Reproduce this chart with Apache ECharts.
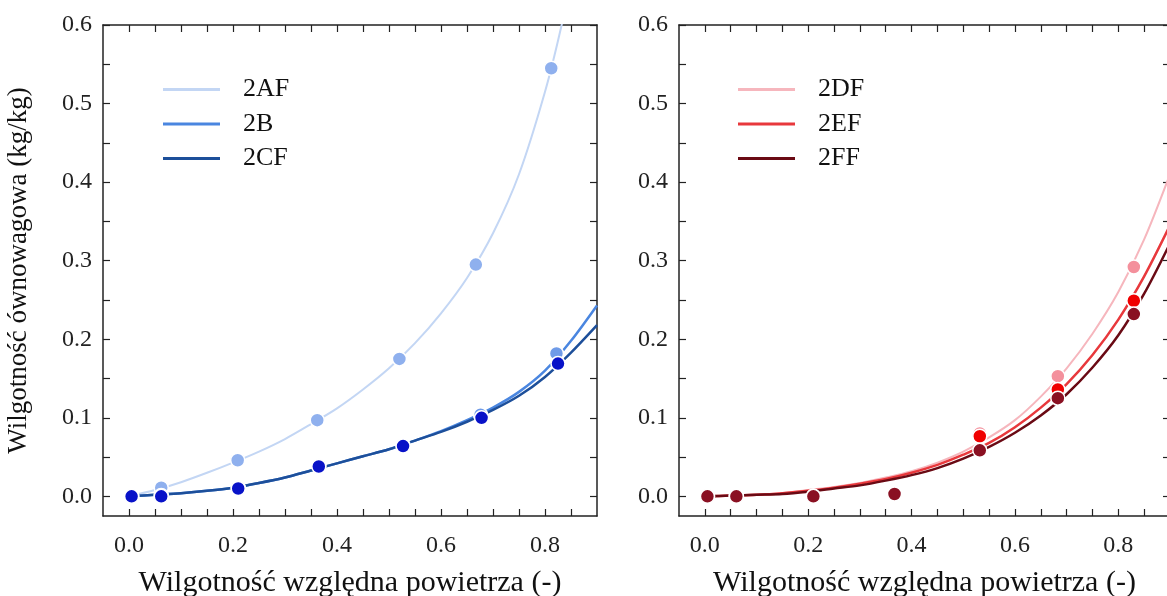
<!DOCTYPE html>
<html><head><meta charset="utf-8">
<script src="https://cdn.jsdelivr.net/npm/echarts@6/dist/echarts.min.js"></script>
<style>html,body{margin:0;padding:0;background:#fff}#c{width:1167px;height:596px}</style>
</head><body><div id="c"></div>
<script>
// ---- data ----
const seriesNamesLeft = ['2AF', '2B', '2CF'];
const seriesNamesRight = ['2DF', '2EF', '2FF'];
const xTitle = 'Wilgotność względna powietrza (-)';
const yTitle = 'Wilgotność ównowagowa (kg/kg)';

const xTickValues = [0, 0.05, 0.1, 0.15, 0.2, 0.25, 0.3, 0.35, 0.4, 0.45, 0.5, 0.55, 0.6, 0.65, 0.7, 0.75, 0.8, 0.85];
const xLabelValues = [0, 0.2, 0.4, 0.6, 0.8];
const yTickValues = [0, 0.05, 0.1, 0.15, 0.2, 0.25, 0.3, 0.35, 0.4, 0.45, 0.5, 0.55, 0.6];
const yLabelValues = [0, 0.1, 0.2, 0.3, 0.4, 0.5, 0.6];

// fitted curves (read along x)
const curveX = [0, 0.05, 0.1, 0.15, 0.2, 0.25, 0.3, 0.35, 0.4, 0.45, 0.5, 0.55, 0.6, 0.65, 0.7, 0.75, 0.8, 0.85, 0.9];
const curve2AFx = [0, 0.05, 0.1, 0.15, 0.2, 0.25, 0.3, 0.35, 0.4, 0.45, 0.5, 0.55, 0.6, 0.65, 0.7, 0.75, 0.8, 0.832, 0.85];
const curve2AF = [0, 0.008, 0.018, 0.03, 0.043, 0.057, 0.073, 0.092, 0.112, 0.136, 0.163, 0.195, 0.233, 0.278, 0.335, 0.41, 0.515, 0.6, 0.66];
const curve2B  = [0, 0.002, 0.004, 0.007, 0.011, 0.017, 0.024, 0.033, 0.042, 0.051, 0.060, 0.071, 0.083, 0.097, 0.113, 0.133, 0.160, 0.198, 0.243];
const curve2CF = [0, 0.002, 0.004, 0.007, 0.011, 0.017, 0.024, 0.033, 0.042, 0.051, 0.060, 0.071, 0.082, 0.095, 0.110, 0.128, 0.152, 0.183, 0.218];
const curve2DF = [0, 0.001, 0.002, 0.004, 0.008, 0.012, 0.017, 0.024, 0.032, 0.043, 0.057, 0.075, 0.097, 0.127, 0.163, 0.207, 0.260, 0.327, 0.41];
const curve2EF = [0, 0.001, 0.002, 0.004, 0.007, 0.011, 0.016, 0.022, 0.030, 0.040, 0.053, 0.068, 0.088, 0.113, 0.143, 0.180, 0.225, 0.280, 0.345];
const curve2FF = [0, 0.001, 0.002, 0.003, 0.006, 0.010, 0.014, 0.020, 0.027, 0.036, 0.048, 0.063, 0.081, 0.103, 0.130, 0.164, 0.205, 0.258, 0.322];

// measured points
const pts2AFx = [0.005, 0.062, 0.209, 0.362, 0.52, 0.667, 0.812];
const pts2AFy = [0, 0.011, 0.046, 0.097, 0.175, 0.295, 0.545];
const pts2Bx  = [0.005, 0.062, 0.21, 0.365, 0.527, 0.676, 0.822];
const pts2By  = [0, 0.001, 0.011, 0.039, 0.065, 0.104, 0.182];
const pts2CFx = [0.005, 0.062, 0.21, 0.365, 0.527, 0.678, 0.825];
const pts2CFy = [0, 0, 0.01, 0.038, 0.064, 0.100, 0.169];
const ptsRx   = [0.005, 0.061, 0.21, 0.367, 0.532, 0.683, 0.83];
const pts2DFy = [0, 0, 0, 0.003, 0.08, 0.153, 0.292];
const pts2EFy = [0, 0, 0, 0.003, 0.0765, 0.136, 0.249];
const pts2FFy = [0, 0, 0, 0.003, 0.0586, 0.125, 0.232];

// ---- chart ----
const FONT = '"Liberation Serif", "DejaVu Serif", serif';
const zip = (xs, ys) => xs.map((x, i) => [x, ys[i]]);

function xAxes(gridIndex, withName) {
  const common = {
    gridIndex, type: 'value', min: -0.05, max: 0.9,
    splitLine: { show: false },
    axisLine: { show: true, onZero: false, lineStyle: { color: '#222', width: 1.5 } },
    axisTick: { show: true, inside: true, length: 7, customValues: xTickValues, lineStyle: { color: '#222', width: 1.2 } }
  };
  return [
    Object.assign({}, common, {
      position: 'bottom',
      axisLabel: { show: true, customValues: xLabelValues, formatter: v => v.toFixed(1), margin: 18,
        fontFamily: FONT, fontSize: 24, color: '#222' },
      name: withName, nameLocation: 'middle', nameGap: 52,
      nameTextStyle: { fontFamily: FONT, fontSize: 30, color: '#111' }
    }),
    Object.assign({}, common, { position: 'top', axisLabel: { show: false } })
  ];
}
function yAxes(gridIndex, withName) {
  const common = {
    gridIndex, type: 'value', min: -0.025, max: 0.6,
    splitLine: { show: false },
    axisLine: { show: true, onZero: false, lineStyle: { color: '#222', width: 1.5 } },
    axisTick: { show: true, inside: true, length: 7, customValues: yTickValues, lineStyle: { color: '#222', width: 1.2 } }
  };
  return [
    Object.assign({}, common, {
      position: 'left',
      axisLabel: { show: true, customValues: yLabelValues, formatter: v => v.toFixed(1), margin: 11,
        fontFamily: FONT, fontSize: 24, color: '#222' },
      name: withName, nameLocation: 'middle', nameGap: 71, nameRotate: 90,
      nameTextStyle: { fontFamily: FONT, fontSize: 27, color: '#111' }
    }),
    Object.assign({}, common, { position: 'right', axisLabel: { show: false } })
  ];
}

function curve(name, xi, yi, xs, ys, color, width) {
  return { name, type: 'line', xAxisIndex: xi, yAxisIndex: yi, data: zip(xs, ys),
    smooth: 0.3, symbol: 'none', showSymbol: false, clip: true,
    lineStyle: { color, width }, itemStyle: { color }, z: 2, silent: true };
}
function points(xi, yi, xs, ys, color, z) {
  return { type: 'scatter', xAxisIndex: xi, yAxisIndex: yi, data: zip(xs, ys),
    symbol: 'circle', symbolSize: 14,
    itemStyle: { color, borderColor: '#fff', borderWidth: 1.5, opacity: 1 }, z, silent: true };
}

const legendCommon = {
  orient: 'vertical', icon: 'rect', itemWidth: 57, itemHeight: 3, itemGap: 7.5,
  textStyle: { fontFamily: FONT, fontSize: 26, lineHeight: 27, color: '#111', padding: [0, 0, 0, 18] },
  selectedMode: false
};

const option = {
  backgroundColor: '#fff',
  animation: false,
  grid: [
    { left: 103, top: 25, width: 494, height: 491, outerBoundsMode: 'none', containLabel: false },
    { left: 679, top: 25, width: 491, height: 491, outerBoundsMode: 'none', containLabel: false }
  ],
  legend: [
    Object.assign({ data: seriesNamesLeft, left: 158, top: 71 }, legendCommon),
    Object.assign({ data: seriesNamesRight, left: 733, top: 71 }, legendCommon)
  ],
  xAxis: [...xAxes(0, xTitle), ...xAxes(1, xTitle)],
  yAxis: [...yAxes(0, yTitle), ...yAxes(1, '')],
  series: [
    curve('2AF', 0, 0, curve2AFx, curve2AF, '#c3d6f4', 2),
    curve('2B', 0, 0, curveX, curve2B, '#4a86e0', 2.5),
    curve('2CF', 0, 0, curveX, curve2CF, '#1d4f9a', 2.5),
    points(0, 0, pts2AFx, pts2AFy, '#8fb0ee', 5),
    points(0, 0, pts2Bx, pts2By, '#6f9be8', 6),
    points(0, 0, pts2CFx, pts2CFy, '#0812c8', 7),
    curve('2DF', 2, 2, curveX, curve2DF, '#f6b6bd', 2),
    curve('2EF', 2, 2, curveX, curve2EF, '#e8383c', 2.5),
    curve('2FF', 2, 2, curveX, curve2FF, '#6a0a14', 2.5),
    points(2, 2, ptsRx, pts2DFy, '#f4909c', 5),
    points(2, 2, ptsRx, pts2EFy, '#f00000', 6),
    points(2, 2, ptsRx, pts2FFy, '#8a1022', 7)
  ]
};
const chart = echarts.init(document.getElementById('c'), null, { renderer: 'canvas' });
chart.setOption(option);
</script>
</body></html>
